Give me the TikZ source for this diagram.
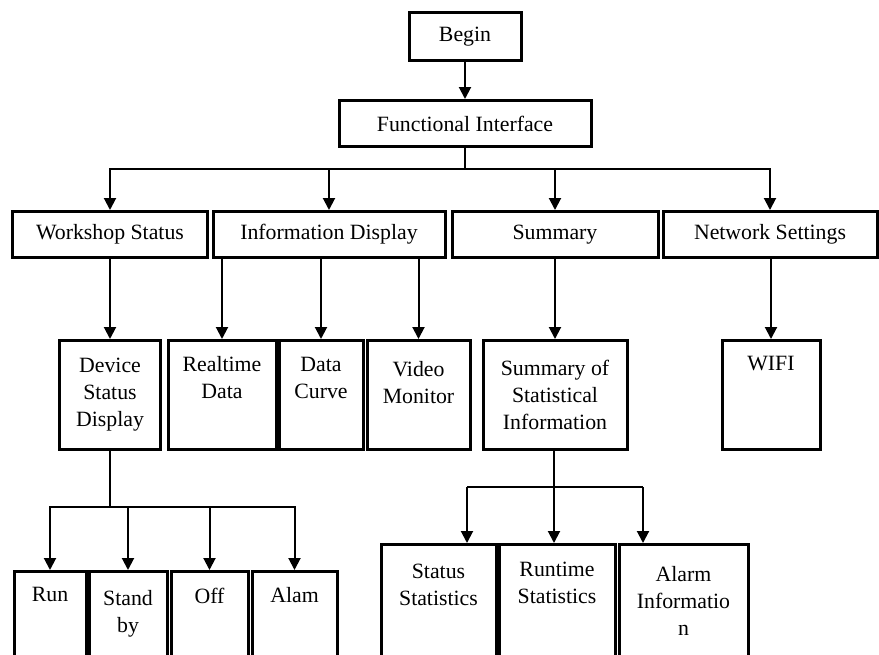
\documentclass[tikz,border=0pt]{standalone}
\usepackage{fontspec}
\setmainfont{Liberation Serif}
\usetikzlibrary{arrows.meta}

\begin{document}
\begin{tikzpicture}[x=0.5pt,y=-0.5pt,->,>={Triangle[length=6pt,width=6pt]},line width=1pt,
box/.style={draw,line width=1.5pt,inner sep=0pt,anchor=north,align=center,font=\fontsize{10.9}{13.5}\selectfont}]
\clip (0,0) rectangle (879,654);

\node[box,minimum width=56pt,minimum height=24pt](begin) at (465,11){Begin};
\node[box,minimum width=126pt,minimum height=23pt](func) at (465,99){Functional Interface};

\node[box,minimum width=97.5pt,minimum height=23pt](workshop) at (110,210){Workshop Status};
\node[box,minimum width=116pt,minimum height=23pt](info) at (329,210){Information Display};
\node[box,minimum width=103pt,minimum height=23pt](summary) at (555,210){Summary};
\node[box,minimum width=107pt,minimum height=23pt](network) at (770,210){Network Settings};

\node[box,minimum width=50.5pt,minimum height=54.5pt](device) at (110,339){Device\\Status\\Display};
\node[box,minimum width=54pt,text height=29pt,text depth=25.5pt](realtime) at (222,339){Realtime\\Data};
\node[box,minimum width=42pt,text height=29pt,text depth=25.5pt](curve) at (321,339){Data\\Curve};
\node[box,minimum width=51.5pt,text height=31.5pt,text depth=23pt](video) at (418.5,339){Video\\Monitor};
\node[box,minimum width=72pt,minimum height=54.5pt](stat) at (555,339){Summary of\\Statistical\\Information};
\node[box,minimum width=49pt,text height=15pt,text depth=39.5pt](wifi) at (771,339){WIFI};

\node[box,minimum width=36pt,text height=15pt,text depth=32pt](run) at (50,570){Run};
\node[box,minimum width=39pt,text height=30.5pt,text depth=16.5pt](standby) at (128,570){Stand\\by};
\node[box,minimum width=38.5pt,text height=16pt,text depth=31pt](off) at (209.5,570){Off};
\node[box,minimum width=42.5pt,text height=15.5pt,text depth=31.5pt](alam) at (294.5,570){Alam};

\node[box,minimum width=57.5pt,text height=30.5pt,text depth=30pt](sstat) at (438.5,543){Status\\Statistics};
\node[box,minimum width=58pt,text height=29.5pt,text depth=31pt](runtime) at (557,543){Runtime\\Statistics};
\node[box,minimum width=64.5pt,text height=45.5pt,text depth=15pt](alarm) at (683.5,543){Alarm\\Informatio\\n};

\coordinate(bar1) at (465,169);
\coordinate(bar2) at (110,507);
\coordinate(bar3) at (554,487);
\coordinate(s1) at (467,487);
\coordinate(s3) at (643,487);

\draw(begin)--(func);
\draw[-](func)--(bar1);
\draw(bar1)-|(workshop);
\draw(bar1)-|(info);
\draw(bar1)-|(summary);
\draw(bar1)-|(network);

\draw(workshop)--(device);
\draw(info.south -| realtime)--(realtime);
\draw(info.south -| curve)--(curve);
\draw(info.south -| video)--(video);
\draw(summary)--(stat);
\draw(network.south -| wifi)--(wifi);

\draw[-](device)--(bar2);
\draw(bar2)-|(run);
\draw(bar2)-|(standby);
\draw(bar2)-|(off);
\draw(bar2)-|(alam);

\draw[-](stat.south -| bar3)--(bar3);
\draw[-](s1)--(s3);
\draw(s1)--(s1 |- sstat.north);
\draw(bar3)--(bar3 |- runtime.north);
\draw(s3)--(s3 |- alarm.north);

\end{tikzpicture}
\end{document}
